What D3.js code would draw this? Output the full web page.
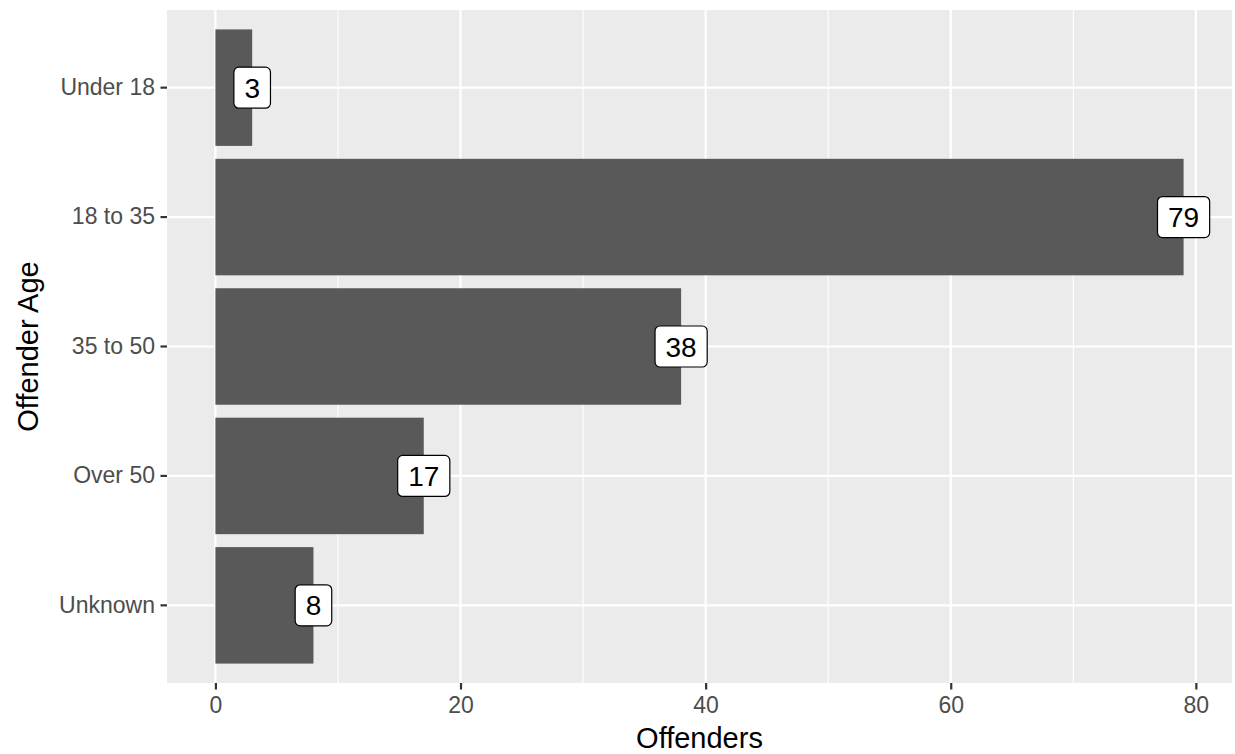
<!DOCTYPE html>
<html><head><meta charset="utf-8">
<script src="https://cdn.jsdelivr.net/npm/d3@7"></script>
<style>body{margin:0;background:#fff}svg{display:block}text{font-family:"Liberation Sans",Arial,sans-serif}</style>
</head><body><svg id="c" width="1235" height="754"></svg>
<script>
const categories = ["Under 18", "18 to 35", "35 to 50", "Over 50", "Unknown"];
const values = [3, 79, 38, 17, 8];
const xTicks = [0, 20, 40, 60, 80];
const xMinor = [10, 30, 50, 70];

const svg = d3.select("#c");
const P = {l: 167, r: 1232, t: 10, b: 683};
const maxV = d3.max(values);
const x = d3.scaleLinear().domain([-0.05*maxV, maxV*1.05]).range([P.l, P.r]);
const n = categories.length;
const y = d3.scaleLinear().domain([n + 0.6, 0.4]).range([P.t, P.b]);
const pos = (i) => n - i;

svg.append("rect").attr("x", P.l).attr("y", P.t).attr("width", P.r-P.l).attr("height", P.b-P.t).attr("fill", "#EBEBEB");
const g = svg.append("g");
g.selectAll(".mn").data(xMinor).join("line").attr("x1", d=>x(d)).attr("x2", d=>x(d)).attr("y1", P.t).attr("y2", P.b).attr("stroke", "#fff").attr("stroke-width", 1.1);
g.selectAll(".mj").data(xTicks).join("line").attr("x1", d=>x(d)).attr("x2", d=>x(d)).attr("y1", P.t).attr("y2", P.b).attr("stroke", "#fff").attr("stroke-width", 2.2);
g.selectAll(".hy").data(categories).join("line").attr("x1", P.l).attr("x2", P.r).attr("y1", (d,i)=>y(pos(i))).attr("y2", (d,i)=>y(pos(i))).attr("stroke", "#fff").attr("stroke-width", 2.2);

const bw = y(0) - y(0.9);
svg.selectAll(".bar").data(values).join("rect")
  .attr("x", x(0)).attr("y", (d,i)=>y(pos(i)) - bw/2)
  .attr("width", d=>x(d)-x(0)).attr("height", bw).attr("fill", "#595959");

const fs = 28, pad = 10.5;
const lg = svg.selectAll(".lab").data(values).join("g").attr("transform", (d,i)=>`translate(${x(d)},${y(pos(i))})`);
lg.each(function(d){
  const gg = d3.select(this);
  const t = gg.append("text").text(d).attr("font-size", fs).attr("text-anchor", "middle").attr("dy", "0.358em").attr("fill", "#000");
  const w = t.node().getComputedTextLength();
  const h = fs*0.716;
  gg.insert("rect", "text").attr("x", -w/2-pad).attr("y", -h/2-pad).attr("width", w+2*pad).attr("height", h+2*pad)
    .attr("rx", 5).attr("fill", "#fff").attr("stroke", "#000").attr("stroke-width", 1.2);
});

const xa = svg.append("g").attr("transform", `translate(0,${P.b})`)
  .call(d3.axisBottom(x).tickValues(xTicks).tickSize(6.5).tickPadding(7.5).tickFormat(d3.format("d")));
xa.select(".domain").remove();
xa.selectAll("line").attr("stroke", "#333").attr("stroke-width", 2.2);
xa.selectAll("text").attr("font-size", 23).attr("fill", "#4D4D4D").attr("font-family", '"Liberation Sans",Arial,sans-serif');

const yb = d3.scaleBand().domain(categories).range([y(n+0.5), y(0.5)]);
const ya = svg.append("g").attr("transform", `translate(${P.l},0)`)
  .call(d3.axisLeft(yb).tickSize(6.5).tickPadding(5.5));
ya.select(".domain").remove();
ya.selectAll("line").attr("stroke", "#333").attr("stroke-width", 2.2);
ya.selectAll("text").attr("font-size", 23).attr("fill", "#4D4D4D").attr("font-family", '"Liberation Sans",Arial,sans-serif');

svg.append("text").attr("x", (P.l+P.r)/2).attr("y", 748).attr("text-anchor", "middle").attr("font-size", 29).attr("fill", "#000").text("Offenders");
svg.append("text").attr("transform", `translate(38,${(P.t+P.b)/2}) rotate(-90)`).attr("text-anchor", "middle").attr("font-size", 29).attr("fill", "#000").text("Offender Age");
</script></body></html>
